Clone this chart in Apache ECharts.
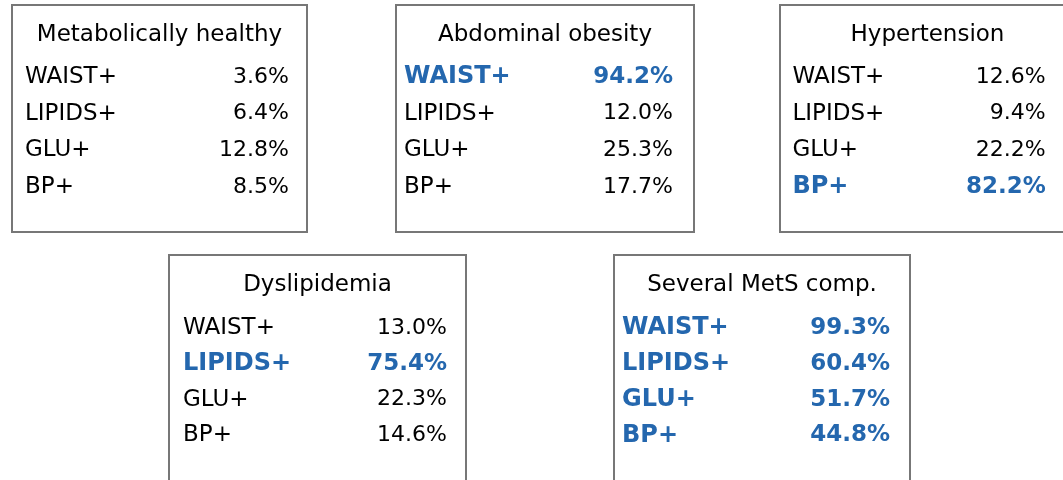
<!DOCTYPE html>
<html>
<head>
<meta charset="utf-8">
<script src="https://cdn.jsdelivr.net/npm/echarts@6/dist/echarts.min.js"></script>
<style>
  html, body { margin: 0; padding: 0; background: #fff; }
  #chart { width: 1063px; height: 480px; }
</style>
</head>
<body>
<div id="chart"></div>
<script>
// data
const panelTitles = ['Metabolically healthy', 'Abdominal obesity', 'Hypertension', 'Dyslipidemia', 'Several MetS comp.'];
const rowNames = ['WAIST+', 'LIPIDS+', 'GLU+', 'BP+'];
const healthyValues = [3.6, 6.4, 12.8, 8.5];
const obesityValues = [94.2, 12.0, 25.3, 17.7];
const hypertensionValues = [12.6, 9.4, 22.2, 82.2];
const dyslipidemiaValues = [13.0, 75.4, 22.3, 14.6];
const severalValues = [99.3, 60.4, 51.7, 44.8];
const highlightRows = [[], [0], [3], [1], [0, 1, 2, 3]];
const panelValues = [healthyValues, obesityValues, hypertensionValues, dyslipidemiaValues, severalValues];

// layout of the boxes (the last two run off the bottom of the page)
const boxes = [
  { left: 12, top: 5, width: 295, height: 227, nameX: 13, valueX: 277, rowTop: 72, rowGap: 36.6 },
  { left: 396, top: 5, width: 298, height: 227, nameX: 8, valueX: 277, rowTop: 72, rowGap: 36.6 },
  { left: 780, top: 5, width: 295, height: 227, nameX: 13, valueX: 277, rowTop: 72, rowGap: 36.6 },
  { left: 169, top: 255, width: 297, height: 240, nameX: 14, valueX: 278, rowTop: 73, rowGap: 35.8 },
  { left: 614, top: 255, width: 296, height: 240, nameX: 8, valueX: 276, rowTop: 73, rowGap: 35.8 }
];

const FONT = 'DejaVu Sans';
const BLUE = '#2467ae';
const BLACK = '#000';
const PAGE_H = 480;

const chart = echarts.init(document.getElementById('chart'));

let grids = [], xAxes = [], yAxes = [], series = [], graphics = [];

boxes.forEach((b, p) => {
  // grid only covers the visible part, axis range keeps rows at the same pixel spacing
  const h = Math.min(b.height, PAGE_H - b.top);
  grids.push({ left: b.left, top: b.top, width: b.width, height: h, show: false });
  xAxes.push({ gridIndex: p, type: 'value', min: 0, max: b.width, show: false });
  yAxes.push({
    gridIndex: p, type: 'value', inverse: true, show: false,
    min: -b.rowTop / b.rowGap, max: (h - b.rowTop) / b.rowGap
  });

  graphics.push({
    type: 'rect', silent: true,
    shape: { x: b.left, y: b.top, width: b.width, height: b.height },
    style: { fill: 'none', stroke: '#777', lineWidth: 2 }
  });
  graphics.push({
    type: 'text',
    x: b.left + b.width / 2,
    y: b.top + 30,
    style: {
      text: panelTitles[p], fill: BLACK, font: '23px "' + FONT + '"',
      align: 'center', verticalAlign: 'middle'
    }
  });

  const hl = i => highlightRows[p].indexOf(i) >= 0;
  const itemLabel = (i, size, boldSize) => hl(i)
    ? { color: BLUE, fontWeight: 'bold', fontSize: boldSize }
    : { color: BLACK, fontWeight: 'normal', fontSize: size };

  series.push({
    type: 'scatter', xAxisIndex: p, yAxisIndex: p, symbolSize: 0, silent: true,
    itemStyle: { opacity: 1 },
    data: rowNames.map((n, i) => ({ value: [b.nameX, i], name: n, label: itemLabel(i, 23, 24) })),
    label: {
      show: true, position: 'inside', align: 'left', verticalAlign: 'middle', opacity: 1,
      fontFamily: FONT, formatter: d => d.name
    }
  });
  series.push({
    type: 'scatter', xAxisIndex: p, yAxisIndex: p, symbolSize: 0, silent: true,
    itemStyle: { opacity: 1 },
    data: panelValues[p].map((v, i) => ({ value: [b.valueX, i], name: v.toFixed(1) + '%', label: itemLabel(i, 22, 23) })),
    label: {
      show: true, position: 'inside', align: 'right', verticalAlign: 'middle', opacity: 1,
      fontFamily: FONT, formatter: d => d.name
    }
  });
});

chart.setOption({
  backgroundColor: '#fff',
  animation: false,
  grid: grids,
  xAxis: xAxes,
  yAxis: yAxes,
  series: series,
  graphic: graphics
});
</script>
</body>
</html>
